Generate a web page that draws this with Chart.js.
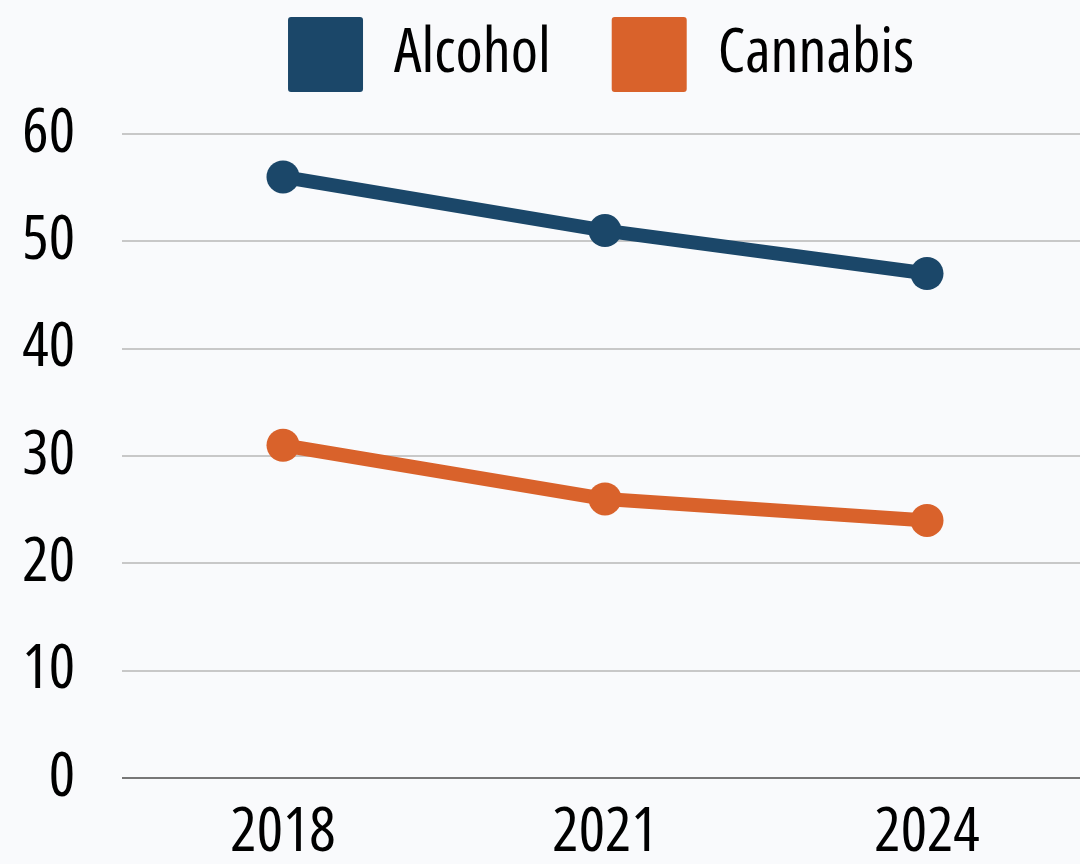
<!DOCTYPE html>
<html>
<head>
<meta charset="utf-8">
<script src="https://cdn.jsdelivr.net/npm/chart.js@4.4.1/dist/chart.umd.min.js"></script>
<style>
  html, body { margin: 0; padding: 0; background: #f9fafc; overflow: hidden; }
  #wrap { width: 1190px; height: 864px; }
</style>
</head>
<body>
<div id="wrap"><canvas id="lineChart" width="1190" height="864"></canvas></div>
<script>
// survey years and share of respondents per substance
const years = ["2018", "2021", "2024"];
const alcohol = [56, 51, 47];
const cannabis = [31, 26, 24];
const yTicks = [0, 10, 20, 30, 40, 50, 60];

// narrow face: "condensed" goes into the font shorthand through the weight slot
const FONT = { family: "'Open Sans', sans-serif", weight: "condensed", size: 62, lineHeight: 1 };

// extra room under the legend row, and the row centred a bit further right
const legendSpacer = {
  id: "legendSpacer",
  beforeInit(chart) {
    const fit = chart.legend.fit;
    chart.legend.fit = function () {
      fit.call(this);
      this.height += 32;
    };
  },
  afterLayout(chart) {
    chart.legend.right += 114;
  },
};

const ctx = document.getElementById("lineChart");
const chartInstance = new Chart(ctx, {
  type: "line",
  data: {
    labels: years,
    datasets: [
      {
        label: "Alcohol",
        data: alcohol,
        borderColor: "#1b4769",
        backgroundColor: "#1b4769",
        borderWidth: 14,
        pointRadius: 16.5,
        pointHoverRadius: 16.5,
        pointBorderWidth: 0,
      },
      {
        label: "Cannabis",
        data: cannabis,
        borderColor: "#d9622b",
        backgroundColor: "#d9622b",
        borderWidth: 14,
        pointRadius: 16.5,
        pointHoverRadius: 16.5,
        pointBorderWidth: 0,
      },
    ],
  },
  plugins: [legendSpacer],
  options: {
    responsive: false,
    animation: false,
    layout: { padding: { top: -44, right: 102, bottom: -24, left: 0 } },
    plugins: {
      tooltip: { enabled: false },
      legend: {
        position: "top",
        labels: {
          boxWidth: 75,
          boxHeight: 75,
          useBorderRadius: true,
          borderRadius: 3,
          padding: 61,
          color: "#000",
          font: FONT,
          generateLabels: (chart) =>
            Chart.defaults.plugins.legend.labels
              .generateLabels(chart)
              .map((item) => ({ ...item, lineWidth: 0 })),
        },
      },
    },
    scales: {
      x: {
        offset: true,
        grid: { display: false, drawTicks: false },
        border: { display: false },
        ticks: { color: "#000", padding: 24, font: FONT },
      },
      y: {
        min: 0,
        max: 60,
        afterBuildTicks: (scale) => {
          scale.ticks = yTicks.map((v) => ({ value: v }));
        },
        afterFit: (scale) => {
          scale.width = 122;
        },
        grid: {
          drawTicks: false,
          lineWidth: 2,
          color: (c) => (c.tick && c.tick.value === 0 ? "#777777" : "#c8c8c8"),
        },
        border: { display: false },
        ticks: { color: "#000", padding: 47, font: FONT },
      },
    },
  },
});
</script>
</body>
</html>
